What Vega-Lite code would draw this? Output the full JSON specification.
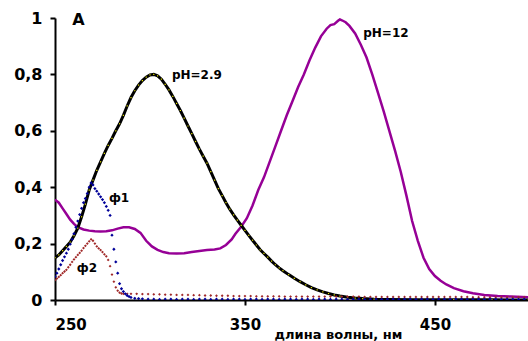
{
  "$schema": "https://vega.github.io/schema/vega-lite/v6.json",
  "width": 473,
  "height": 282,
  "autosize": "none",
  "padding": {"left": 55, "top": 18, "right": 0, "bottom": 41},
  "background": "white",
  "config": {"view": {"stroke": null}},
  "datasets": {
    "ph29": [
      {"wl":250,"A":0.15},{"wl":252,"A":0.16},{"wl":254,"A":0.175},{"wl":256,"A":0.19},{"wl":258,"A":0.205},{"wl":260,"A":0.228},{"wl":262,"A":0.255},{"wl":264,"A":0.295},{"wl":266,"A":0.34},{"wl":268,"A":0.39},{"wl":270,"A":0.425},{"wl":272,"A":0.46},{"wl":274,"A":0.49},{"wl":276,"A":0.52},{"wl":278,"A":0.548},{"wl":280,"A":0.573},{"wl":282,"A":0.6},{"wl":284,"A":0.625},{"wl":286,"A":0.655},{"wl":288,"A":0.688},{"wl":290,"A":0.718},{"wl":292,"A":0.742},{"wl":294,"A":0.762},{"wl":296,"A":0.778},{"wl":298,"A":0.79},{"wl":300,"A":0.798},{"wl":302,"A":0.8},{"wl":304,"A":0.795},{"wl":306,"A":0.783},{"wl":308,"A":0.765},{"wl":310,"A":0.745},{"wl":312,"A":0.722},{"wl":314,"A":0.697},{"wl":316,"A":0.672},{"wl":318,"A":0.645},{"wl":320,"A":0.617},{"wl":322,"A":0.59},{"wl":324,"A":0.562},{"wl":326,"A":0.535},{"wl":328,"A":0.51},{"wl":330,"A":0.485},{"wl":332,"A":0.455},{"wl":334,"A":0.425},{"wl":336,"A":0.395},{"wl":338,"A":0.37},{"wl":340,"A":0.345},{"wl":342,"A":0.322},{"wl":344,"A":0.302},{"wl":346,"A":0.283},{"wl":348,"A":0.265},{"wl":350,"A":0.247},{"wl":352,"A":0.229},{"wl":354,"A":0.212},{"wl":356,"A":0.195},{"wl":358,"A":0.178},{"wl":360,"A":0.165},{"wl":362,"A":0.152},{"wl":364,"A":0.138},{"wl":366,"A":0.125},{"wl":368,"A":0.114},{"wl":370,"A":0.104},{"wl":373,"A":0.09},{"wl":376,"A":0.077},{"wl":379,"A":0.065},{"wl":382,"A":0.054},{"wl":385,"A":0.044},{"wl":388,"A":0.036},{"wl":391,"A":0.029},{"wl":394,"A":0.023},{"wl":397,"A":0.018},{"wl":400,"A":0.014},{"wl":404,"A":0.01},{"wl":408,"A":0.007},{"wl":412,"A":0.005},{"wl":418,"A":0.003},{"wl":425,"A":0.002},{"wl":440,"A":0.001},{"wl":460,"A":0.001},{"wl":480,"A":0.0005},{"wl":499,"A":0.0}
    ],
    "ph12": [
      {"wl":250,"A":0.356},{"wl":252,"A":0.345},{"wl":254,"A":0.325},{"wl":256,"A":0.305},{"wl":258,"A":0.285},{"wl":260,"A":0.27},{"wl":262,"A":0.258},{"wl":265,"A":0.25},{"wl":268,"A":0.246},{"wl":271,"A":0.244},{"wl":274,"A":0.243},{"wl":277,"A":0.244},{"wl":280,"A":0.247},{"wl":283,"A":0.253},{"wl":286,"A":0.258},{"wl":289,"A":0.258},{"wl":292,"A":0.252},{"wl":295,"A":0.238},{"wl":298,"A":0.21},{"wl":301,"A":0.19},{"wl":304,"A":0.178},{"wl":307,"A":0.17},{"wl":310,"A":0.166},{"wl":314,"A":0.165},{"wl":318,"A":0.166},{"wl":322,"A":0.17},{"wl":326,"A":0.174},{"wl":330,"A":0.177},{"wl":334,"A":0.179},{"wl":337,"A":0.183},{"wl":340,"A":0.195},{"wl":343,"A":0.215},{"wl":345,"A":0.235},{"wl":348,"A":0.26},{"wl":351,"A":0.29},{"wl":354,"A":0.335},{"wl":357,"A":0.39},{"wl":360,"A":0.435},{"wl":363,"A":0.49},{"wl":366,"A":0.545},{"wl":369,"A":0.6},{"wl":372,"A":0.655},{"wl":375,"A":0.705},{"wl":378,"A":0.755},{"wl":381,"A":0.8},{"wl":384,"A":0.85},{"wl":387,"A":0.895},{"wl":390,"A":0.935},{"wl":393,"A":0.962},{"wl":395,"A":0.975},{"wl":397,"A":0.978},{"wl":399,"A":0.99},{"wl":400,"A":0.995},{"wl":401,"A":0.992},{"wl":403,"A":0.985},{"wl":405,"A":0.972},{"wl":408,"A":0.945},{"wl":411,"A":0.905},{"wl":414,"A":0.86},{"wl":417,"A":0.8},{"wl":420,"A":0.735},{"wl":423,"A":0.67},{"wl":426,"A":0.6},{"wl":429,"A":0.53},{"wl":432,"A":0.455},{"wl":435,"A":0.37},{"wl":438,"A":0.28},{"wl":441,"A":0.21},{"wl":444,"A":0.15},{"wl":447,"A":0.11},{"wl":450,"A":0.085},{"wl":453,"A":0.068},{"wl":456,"A":0.055},{"wl":460,"A":0.042},{"wl":465,"A":0.031},{"wl":470,"A":0.024},{"wl":476,"A":0.018},{"wl":483,"A":0.014},{"wl":490,"A":0.012},{"wl":499,"A":0.01}
    ],
    "f1": [
      {"wl":250,"A":0.083},{"wl":251,"A":0.095},{"wl":252,"A":0.11},{"wl":253,"A":0.125},{"wl":254,"A":0.14},{"wl":255,"A":0.153},{"wl":256,"A":0.166},{"wl":257,"A":0.18},{"wl":258,"A":0.198},{"wl":259,"A":0.215},{"wl":260,"A":0.235},{"wl":261,"A":0.258},{"wl":262,"A":0.28},{"wl":263,"A":0.303},{"wl":264,"A":0.325},{"wl":265,"A":0.345},{"wl":266,"A":0.36},{"wl":267,"A":0.378},{"wl":268,"A":0.4},{"wl":269,"A":0.415},{"wl":270,"A":0.408},{"wl":271,"A":0.395},{"wl":272,"A":0.386},{"wl":273,"A":0.376},{"wl":274,"A":0.366},{"wl":275,"A":0.356},{"wl":276,"A":0.345},{"wl":277,"A":0.332},{"wl":278,"A":0.318},{"wl":279,"A":0.3},{"wl":280,"A":0.23},{"wl":281,"A":0.18},{"wl":282,"A":0.135},{"wl":283,"A":0.095},{"wl":284,"A":0.058},{"wl":285,"A":0.04},{"wl":286,"A":0.03},{"wl":287,"A":0.022},{"wl":288,"A":0.016},{"wl":289,"A":0.012},{"wl":290,"A":0.009},{"wl":292,"A":0.006},{"wl":294,"A":0.005},{"wl":296,"A":0.004},
      {"wl":299,"A":0.003},{"wl":302,"A":0.003},{"wl":305,"A":0.002},{"wl":308,"A":0.003},{"wl":311,"A":0.003},{"wl":314,"A":0.002},{"wl":317,"A":0.003},{"wl":320,"A":0.003},{"wl":323,"A":0.002},{"wl":326,"A":0.003},{"wl":329,"A":0.003},{"wl":332,"A":0.002},{"wl":335,"A":0.003},{"wl":338,"A":0.003},{"wl":341,"A":0.002},{"wl":344,"A":0.003},{"wl":347,"A":0.003},{"wl":350,"A":0.002},{"wl":353,"A":0.003},{"wl":356,"A":0.003},{"wl":359,"A":0.002},{"wl":362,"A":0.003},{"wl":365,"A":0.003},{"wl":368,"A":0.002},{"wl":371,"A":0.003},{"wl":374,"A":0.003},{"wl":377,"A":0.002},{"wl":380,"A":0.003},{"wl":383,"A":0.003},{"wl":386,"A":0.002},{"wl":389,"A":0.003},{"wl":392,"A":0.003},{"wl":395,"A":0.002},{"wl":398,"A":0.003},{"wl":401,"A":0.003},{"wl":404,"A":0.002},{"wl":407,"A":0.003},{"wl":410,"A":0.003},{"wl":413,"A":0.002},{"wl":416,"A":0.003},{"wl":419,"A":0.003},{"wl":422,"A":0.002},{"wl":425,"A":0.003},{"wl":428,"A":0.003},{"wl":431,"A":0.002},{"wl":434,"A":0.003},{"wl":437,"A":0.003},{"wl":440,"A":0.002},{"wl":443,"A":0.003},{"wl":446,"A":0.003},{"wl":449,"A":0.002},{"wl":452,"A":0.003},{"wl":455,"A":0.003},{"wl":458,"A":0.002},{"wl":461,"A":0.003},{"wl":464,"A":0.003},{"wl":467,"A":0.002},{"wl":470,"A":0.003},{"wl":473,"A":0.003},{"wl":476,"A":0.002},{"wl":479,"A":0.003},{"wl":482,"A":0.003},{"wl":485,"A":0.002},{"wl":488,"A":0.003},{"wl":491,"A":0.003},{"wl":494,"A":0.002},{"wl":497,"A":0.003}
    ],
    "f2": [
      {"wl":250,"A":0.071},{"wl":251,"A":0.076},{"wl":252,"A":0.082},{"wl":253,"A":0.088},{"wl":254,"A":0.095},{"wl":255,"A":0.101},{"wl":256,"A":0.107},{"wl":257,"A":0.116},{"wl":258,"A":0.125},{"wl":259,"A":0.135},{"wl":260,"A":0.144},{"wl":261,"A":0.152},{"wl":262,"A":0.16},{"wl":263,"A":0.167},{"wl":264,"A":0.175},{"wl":265,"A":0.184},{"wl":266,"A":0.192},{"wl":267,"A":0.2},{"wl":268,"A":0.208},{"wl":269,"A":0.215},{"wl":270,"A":0.21},{"wl":271,"A":0.2},{"wl":272,"A":0.19},{"wl":273,"A":0.183},{"wl":274,"A":0.177},{"wl":275,"A":0.17},{"wl":276,"A":0.162},{"wl":277,"A":0.155},{"wl":278,"A":0.142},{"wl":279,"A":0.12},{"wl":280,"A":0.09},{"wl":281,"A":0.065},{"wl":282,"A":0.045},{"wl":283,"A":0.033},{"wl":284,"A":0.026},{"wl":285,"A":0.023},{"wl":286,"A":0.022},
      {"wl":288,"A":0.022},{"wl":290,"A":0.022},{"wl":293,"A":0.022},{"wl":296,"A":0.021},{"wl":299,"A":0.021},{"wl":302,"A":0.02},{"wl":305,"A":0.02},{"wl":308,"A":0.019},{"wl":311,"A":0.019},{"wl":314,"A":0.018},{"wl":317,"A":0.018},{"wl":320,"A":0.018},{"wl":323,"A":0.017},{"wl":326,"A":0.017},{"wl":329,"A":0.016},{"wl":332,"A":0.016},{"wl":335,"A":0.015},{"wl":338,"A":0.015},{"wl":341,"A":0.015},{"wl":344,"A":0.014},{"wl":347,"A":0.014},{"wl":350,"A":0.014},{"wl":353,"A":0.014},{"wl":356,"A":0.013},{"wl":359,"A":0.013},{"wl":362,"A":0.013},{"wl":365,"A":0.013},{"wl":368,"A":0.013},{"wl":371,"A":0.012},{"wl":374,"A":0.012},{"wl":377,"A":0.012},{"wl":380,"A":0.012},{"wl":383,"A":0.012},{"wl":386,"A":0.012},{"wl":389,"A":0.012},{"wl":392,"A":0.012},{"wl":395,"A":0.012},{"wl":398,"A":0.012},{"wl":401,"A":0.012},{"wl":404,"A":0.012},{"wl":407,"A":0.012},{"wl":410,"A":0.012},{"wl":413,"A":0.011},{"wl":416,"A":0.011},{"wl":419,"A":0.011},{"wl":422,"A":0.011},{"wl":425,"A":0.011},{"wl":428,"A":0.011},{"wl":431,"A":0.011},{"wl":434,"A":0.011},{"wl":437,"A":0.011},{"wl":440,"A":0.011},{"wl":443,"A":0.011},{"wl":446,"A":0.011},{"wl":449,"A":0.011},{"wl":452,"A":0.011},{"wl":455,"A":0.011},{"wl":458,"A":0.011},{"wl":461,"A":0.011},{"wl":464,"A":0.011},{"wl":467,"A":0.011},{"wl":470,"A":0.01},{"wl":473,"A":0.01},{"wl":476,"A":0.01},{"wl":479,"A":0.01},{"wl":482,"A":0.01},{"wl":485,"A":0.01},{"wl":488,"A":0.01},{"wl":491,"A":0.01},{"wl":494,"A":0.01},{"wl":497,"A":0.01}
    ],
    "labels": [
      {"label":"pH=2.9","wl":324.7,"A":0.798},
      {"label":"pH=12","wl":424.2,"A":0.947},
      {"label":"ф1","wl":283.7,"A":0.362},
      {"label":"ф2","wl":266.8,"A":0.113}
    ]
  },
  "encoding": {
    "x": {
      "field": "wl", "type": "quantitative",
      "scale": {"domain": [250, 499], "nice": false, "zero": false},
      "axis": {
        "values": [250, 350, 450],
        "grid": false,
        "domainColor": "black", "domainWidth": 2,
        "tickColor": "black", "tickWidth": 2, "tickSize": 5,
        "labelFont": "DejaVu Sans", "labelFontWeight": "bold", "labelFontSize": 15, "labelColor": "black",
        "labelPadding": 12,
        "title": "длина волны, нм",
        "titleFont": "DejaVu Sans", "titleFontWeight": "bold", "titleFontSize": 13, "titleColor": "black",
        "titleX": 283, "titleY": 38, "titleAlign": "center", "titleBaseline": "alphabetic", "titleAnchor": null
      }
    },
    "y": {
      "field": "A", "type": "quantitative",
      "scale": {"domain": [0, 1], "nice": false},
      "axis": {
        "values": [0, 0.2, 0.4, 0.6, 0.8, 1],
        "labelExpr": "datum.value == 0 ? '0' : (datum.value == 1 ? '1' : replace(format(datum.value, '.1f'), '.', ','))",
        "grid": false,
        "domainColor": "black", "domainWidth": 2,
        "tickColor": "black", "tickWidth": 2, "tickSize": 5,
        "labelFont": "DejaVu Sans", "labelFontWeight": "bold", "labelFontSize": 16, "labelColor": "black",
        "labelPadding": 8,
        "title": "A", "titleAngle": 0,
        "titleFont": "DejaVu Sans", "titleFontWeight": "bold", "titleFontSize": 16, "titleColor": "black",
        "titleX": 23, "titleY": 1, "titleAlign": "center", "titleBaseline": "middle"
      }
    }
  },
  "layer": [
    {"data": {"name": "ph12"}, "mark": {"type": "line", "color": "#960096", "strokeWidth": 2.5, "clip": true}},
    {"data": {"name": "ph29"}, "mark": {"type": "line", "color": "black", "strokeWidth": 3, "clip": true}},
    {"data": {"name": "ph29"}, "mark": {"type": "point", "shape": "square", "filled": true, "color": "#e0e000", "size": 1.5, "opacity": 1, "clip": true}},
    {"data": {"name": "f2"}, "mark": {"type": "point", "shape": "diamond", "filled": true, "color": "#a02828", "size": 8, "opacity": 1, "clip": true}},
    {"data": {"name": "f1"}, "mark": {"type": "point", "shape": "diamond", "filled": true, "color": "#000099", "size": 11, "opacity": 1, "clip": true}},
    {"data": {"name": "labels"}, "mark": {"type": "text", "font": "DejaVu Sans", "fontWeight": "bold", "fontSize": 12, "color": "black", "align": "center", "baseline": "middle"}, "encoding": {"text": {"field": "label"}}}
  ]
}
